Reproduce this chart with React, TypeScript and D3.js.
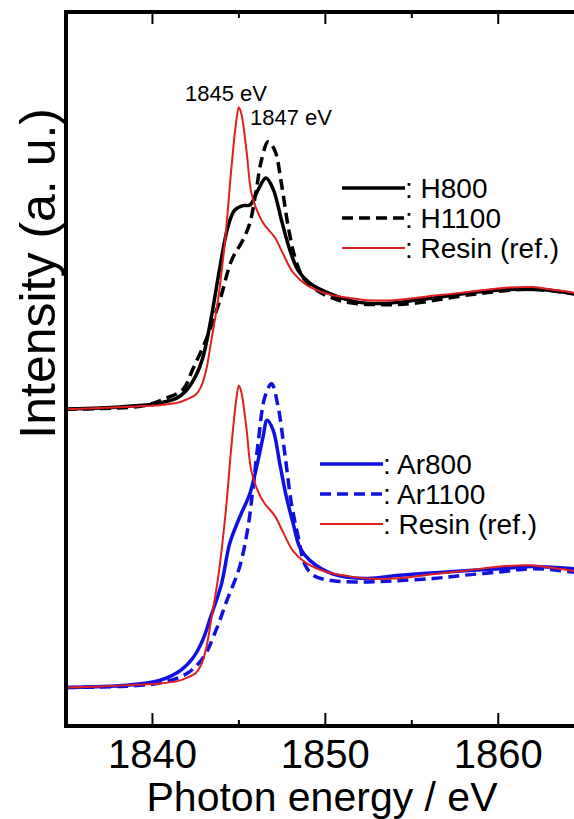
import * as d3 from 'd3';
import React from 'react';

// energies (eV) and normalized intensities
const resinE = [1835, 1837, 1839, 1840.4, 1841.5, 1842, 1842.5, 1842.8, 1843.1, 1843.4, 1843.8, 1844.24, 1844.57, 1844.85, 1845, 1845.15, 1845.44, 1845.73, 1846.2, 1846.5, 1847.08, 1847.56, 1848.14, 1848.9, 1850.07, 1851.4, 1852.5, 1854, 1856.2, 1858, 1860.1, 1862, 1863, 1864.3, 1865];
const resinI = [0, 0.01, 0.025, 0.036, 0.06, 0.09, 0.13, 0.2, 0.35, 0.62, 1.0, 1.6, 2.2, 2.62, 2.745, 2.68, 2.35, 1.96, 1.75, 1.67, 1.56, 1.41, 1.24, 1.13, 1.05, 1.01, 0.99, 0.99, 1.03, 1.06, 1.1, 1.11, 1.09, 1.06, 1.04];

const h800E = [1835, 1837, 1839, 1840.4, 1841.4, 1841.9, 1842.5, 1842.9, 1843.41, 1843.9, 1844.37, 1844.76, 1845.24, 1845.63, 1846.1, 1846.56, 1846.98, 1847.46, 1847.94, 1848.43, 1849.1, 1850.26, 1851.8, 1853.3, 1856.2, 1858.5, 1861, 1863, 1864.3, 1865];
const h800I = [0, 0.01, 0.03, 0.055, 0.1, 0.16, 0.3, 0.46, 0.84, 1.29, 1.66, 1.81, 1.85, 1.855, 1.99, 2.1, 2.0, 1.72, 1.45, 1.26, 1.145, 1.05, 0.975, 0.96, 1.01, 1.06, 1.09, 1.08, 1.05, 1.03];

const h1100E = [1835, 1837, 1839.46, 1840.8, 1841.77, 1842.35, 1843.1, 1843.9, 1844.57, 1845.24, 1845.63, 1846.0, 1846.3, 1846.69, 1847.08, 1847.46, 1847.85, 1848.24, 1848.7, 1849.5, 1851, 1853, 1855, 1857.9, 1860, 1862, 1864.3, 1865];
const h1100I = [0, 0.005, 0.03, 0.1, 0.18, 0.37, 0.63, 0.99, 1.35, 1.54, 1.69, 1.99, 2.26, 2.43, 2.35, 2.05, 1.66, 1.38, 1.2, 1.08, 0.98, 0.95, 0.96, 1.03, 1.07, 1.09, 1.05, 1.03];

const ar800E = [1835, 1838.5, 1840.4, 1841.58, 1842.35, 1842.93, 1843.32, 1843.99, 1844.47, 1845.05, 1845.63, 1846.02, 1846.4, 1846.63, 1846.98, 1847.37, 1847.75, 1848.14, 1848.52, 1849.1, 1850.45, 1852.38, 1854.3, 1857, 1860.1, 1862, 1864.3, 1865];
const ar800I = [0, 0.02, 0.064, 0.15, 0.27, 0.44, 0.62, 0.94, 1.31, 1.55, 1.76, 2.0, 2.28, 2.43, 2.34, 2.03, 1.73, 1.49, 1.275, 1.155, 1.03, 0.99, 1.02, 1.05, 1.08, 1.1, 1.08, 1.07];

const ar1100E = [1835, 1838.5, 1840.4, 1841.97, 1842.93, 1843.7, 1844.28, 1845.05, 1845.53, 1845.82, 1846.11, 1846.5, 1846.89, 1847.27, 1847.66, 1848.04, 1848.43, 1848.81, 1849.3, 1850.45, 1852.4, 1854, 1856.2, 1858, 1860.1, 1862, 1864.3, 1865];
const ar1100I = [0, 0.012, 0.04, 0.125, 0.27, 0.53, 0.78, 1.1, 1.46, 1.82, 2.22, 2.64, 2.76, 2.55, 2.12, 1.67, 1.37, 1.12, 1.02, 0.97, 0.96, 0.97, 0.99, 1.02, 1.05, 1.08, 1.05, 1.04];

const upperLegend = ['H800', 'H1100', 'Resin (ref.)'];
const lowerLegend = ['Ar800', 'Ar1100', 'Resin (ref.)'];
const majorTicks = [1840, 1850, 1860];
const minorTicks = [1835, 1845, 1855, 1865];
const upperOffset = 2.53;

const BLACK = '#000';
const RED = '#e02020';
const BLUE = '#1010e0';
const FONT = '"Liberation Sans", Arial, sans-serif';

const W = 574;
const H = 819;
const left = 66;
const right = 584.7;
const top = 12;
const bottom = 726;

const App = () => {
  const x = d3.scaleLinear().domain([1835, 1865]).range([left, right]);
  const y = d3.scaleLinear().domain([-0.35, 6.14]).range([bottom, top]);

  const line = (es: number[], vs: number[], off: number) =>
    d3.line<number>()
      .x((d, i) => x(es[i]))
      .y((d) => y(d + off))
      .curve(d3.curveCatmullRom.alpha(0.5))(vs) as string;

  const series = [
    { d: line(h1100E, h1100I, upperOffset), color: BLACK, w: 3.5, dash: '11,6' },
    { d: line(h800E, h800I, upperOffset), color: BLACK, w: 3.5, dash: null },
    { d: line(resinE, resinI, upperOffset), color: RED, w: 2, dash: null },
    { d: line(ar1100E, ar1100I, 0), color: BLUE, w: 3.5, dash: '11,6' },
    { d: line(ar800E, ar800I, 0), color: BLUE, w: 3.5, dash: null },
    { d: line(resinE, resinI, 0), color: RED, w: 2, dash: null },
  ];

  const legend = (names: string[], colors: string[], x0: number, y0: number) =>
    names.map((n, i) => (
      <g key={n + i} transform={`translate(${x0},${y0 + i * 30})`}>
        <line x1={0} x2={63} y1={0} y2={0} stroke={colors[i]}
          strokeWidth={i === 2 ? 2 : 3.5} strokeDasharray={i === 1 ? '11,6' : undefined} />
        <text x={63} y={10} fontSize={28} fontFamily={FONT}>: {n}</text>
      </g>
    ));

  return (
    <svg width={W} height={H} style={{ position: 'absolute', left: 0, top: 0, background: '#fff' }}>
      <defs>
        <clipPath id="plot">
          <rect x={left} y={top} width={right - left} height={bottom - top} />
        </clipPath>
      </defs>
      <g clipPath="url(#plot)" fill="none">
        {series.map((s, i) => (
          <path key={i} d={s.d} stroke={s.color} strokeWidth={s.w}
            strokeDasharray={s.dash || undefined} strokeLinejoin="round" />
        ))}
      </g>
      <rect x={left} y={top} width={right - left} height={bottom - top} fill="none" stroke="#000" strokeWidth={4} />
      {majorTicks.map((t) => (
        <g key={t}>
          <line x1={x(t)} x2={x(t)} y1={bottom} y2={bottom - 13} stroke="#000" strokeWidth={2} />
          <line x1={x(t)} x2={x(t)} y1={top} y2={top + 12} stroke="#000" strokeWidth={2} />
          <text x={x(t)} y={768} textAnchor="middle" fontSize={40} fontFamily={FONT}>{t}</text>
        </g>
      ))}
      {minorTicks.map((t) => (
        <g key={t}>
          <line x1={x(t)} x2={x(t)} y1={bottom} y2={bottom - 6} stroke="#000" strokeWidth={2} />
          <line x1={x(t)} x2={x(t)} y1={top} y2={top + 6} stroke="#000" strokeWidth={2} />
        </g>
      ))}
      <text x={322} y={811} textAnchor="middle" fontSize={41} fontFamily={FONT}>Photon energy / eV</text>
      <text transform="translate(55,108) rotate(-90)" textAnchor="end" fontSize={50} fontFamily={FONT}>Intensity (a. u.)</text>
      <text x={185} y={101} fontSize={22} fontFamily={FONT}>1845 eV</text>
      <text x={250} y={125} fontSize={22} fontFamily={FONT}>1847 eV</text>
      {legend(upperLegend, [BLACK, BLACK, RED], 342, 188)}
      {legend(lowerLegend, [BLUE, BLUE, RED], 320, 464)}
    </svg>
  );
};

export default App;
